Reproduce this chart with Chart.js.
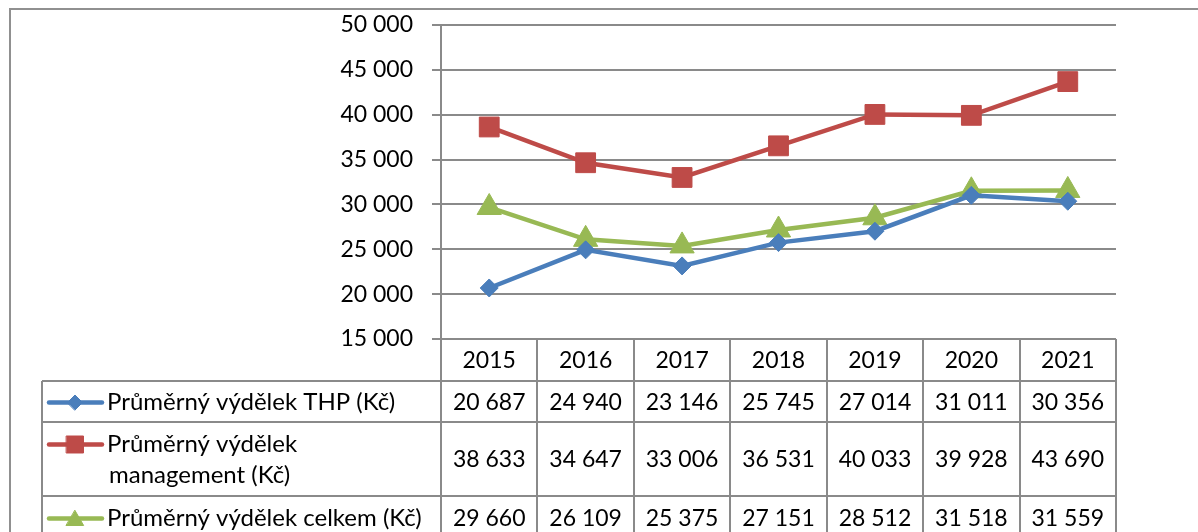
<!DOCTYPE html>
<html><head><meta charset="utf-8">
<script src="https://cdn.jsdelivr.net/npm/chart.js@4.4.1/dist/chart.umd.min.js"></script>
<style>html,body{margin:0;padding:0;background:#fff}#wrap{width:1198px;height:532px;position:relative}</style>
</head><body><div id="wrap"><canvas id="c" width="1198" height="532"></canvas></div>
<script>
const years = ['2015', '2016', '2017', '2018', '2019', '2020', '2021'];
const thp = [20687, 24940, 23146, 25745, 27014, 31011, 30356];
const management = [38633, 34647, 33006, 36531, 40033, 39928, 43690];
const celkem = [29660, 26109, 25375, 27151, 28512, 31518, 31559];
const seriesNames = ['Průměrný výdělek THP (Kč)', 'Průměrný výdělek management (Kč)', 'Průměrný výdělek celkem (Kč)'];
const legendLines = [['Průměrný výdělek THP (Kč)'], ['Průměrný výdělek', 'management (Kč)'], ['Průměrný výdělek celkem (Kč)']];
const yMin = 15000, yMax = 50000, yStep = 5000;

const FONT = 'Lato';
const FS = 23;
const FSL = 24;
const GRID = '#8a8a8a';
const colors = ['#4A7EBB', '#BE4B48', '#98B954'];
const styles = ['rectRot', 'rect', 'triangle'];
const radii = [9, 14, 14];
const legRadii = [7.5, 12, 10];

function fmt(v) { return String(v).replace(/\B(?=(\d{3})+(?!\d))/g, ' '); }

const allSeries = [thp, management, celkem];

const tablePlugin = {
  id: 'tablePlugin',
  afterDraw(chart) {
    const ctx = chart.ctx;
    const ca = chart.chartArea;
    const n = years.length;
    const colW = (ca.right - ca.left) / n;
    const top = ca.bottom;
    const rows = [top, top + 42, top + 83, top + 157, top + 200];
    const legLeft = 42;
    ctx.save();
    ctx.strokeStyle = '#909090';
    ctx.lineWidth = 2;
    ctx.strokeRect(10, 9, 1400, 700);
    ctx.strokeStyle = GRID;
    ctx.lineWidth = 2;
    ctx.beginPath();
    for (let i = 0; i <= n; i++) {
      const x = Math.round(ca.left + i * colW);
      ctx.moveTo(x, top); ctx.lineTo(x, 600);
    }
    ctx.moveTo(legLeft, rows[1]); ctx.lineTo(legLeft, 600);
    ctx.moveTo(ca.left, top); ctx.lineTo(ca.right, top);
    for (let r = 1; r <= 3; r++) {
      ctx.moveTo(legLeft, rows[r]); ctx.lineTo(ca.right, rows[r]);
    }
    ctx.stroke();
    ctx.fillStyle = '#000';
    ctx.font = FS + 'px ' + FONT;
    ctx.textAlign = 'center';
    ctx.textBaseline = 'middle';
    years.forEach((y, i) => {
      const x = chart.scales.x.getPixelForValue(i);
      ctx.fillText(y, x, (rows[0] + rows[1]) / 2 + 1);
    });
    allSeries.forEach((s, si) => {
      const cy = (rows[si + 1] + rows[si + 2]) / 2 + 1;
      s.forEach((v, i) => {
        const x = chart.scales.x.getPixelForValue(i);
        ctx.fillText(fmt(v), x, cy);
      });
    });
    ctx.font = FSL + 'px ' + FONT;
    allSeries.forEach((s, si) => {
      const lines = legendLines[si];
      const rTop = rows[si + 1], rBot = rows[si + 2];
      const mid = (rTop + rBot) / 2 + 1;
      const lh = 31;
      const firstY = mid - (lines.length - 1) * lh / 2;
      ctx.strokeStyle = colors[si];
      ctx.lineWidth = 4.5;
      ctx.lineCap = 'round';
      ctx.beginPath();
      ctx.moveTo(49, firstY); ctx.lineTo(102, firstY);
      ctx.stroke();
      ctx.fillStyle = colors[si];
      ctx.lineWidth = 1;
      Chart.helpers.drawPoint(ctx, { pointStyle: styles[si], radius: legRadii[si], rotation: 0, borderWidth: 1 }, 75, firstY + (styles[si] === 'triangle' ? 2 : 0));
      ctx.fillStyle = '#000';
      ctx.textAlign = 'left';
      lines.forEach((t, li) => {
        ctx.fillText(t, li === 0 ? 107 : 109, firstY + li * lh);
      });
    });
    ctx.restore();
  }
};

new Chart(document.getElementById('c'), {
  type: 'line',
  data: {
    labels: years,
    datasets: allSeries.map((s, i) => ({
      label: seriesNames[i],
      data: s,
      borderColor: colors[i],
      backgroundColor: colors[i],
      borderWidth: 4.5,
      pointStyle: styles[i],
      pointRadius: radii[i],
      pointHoverRadius: radii[i],
      pointBorderWidth: 1,
      tension: 0,
      fill: false
    }))
  },
  options: {
    responsive: false,
    animation: false,
    events: [],
    layout: { padding: { left: 0, top: 25, right: 82, bottom: 193 } },
    plugins: { legend: { display: false }, tooltip: { enabled: false } },
    scales: {
      x: { type: 'category', offset: true, display: false },
      y: {
        min: yMin, max: yMax,
        afterFit(s) { s.width = 441; s.paddingTop = 0; s.paddingBottom = 0; },
        border: { display: true, color: GRID, width: 2 },
        grid: { color: GRID, lineWidth: 2, tickLength: 9, drawTicks: true },
        ticks: {
          stepSize: yStep,
          padding: 19,
          color: '#000',
          font: { family: FONT, size: FS },
          callback: (v) => fmt(v)
        }
      }
    }
  },
  plugins: [tablePlugin]
});
</script>
</body></html>
